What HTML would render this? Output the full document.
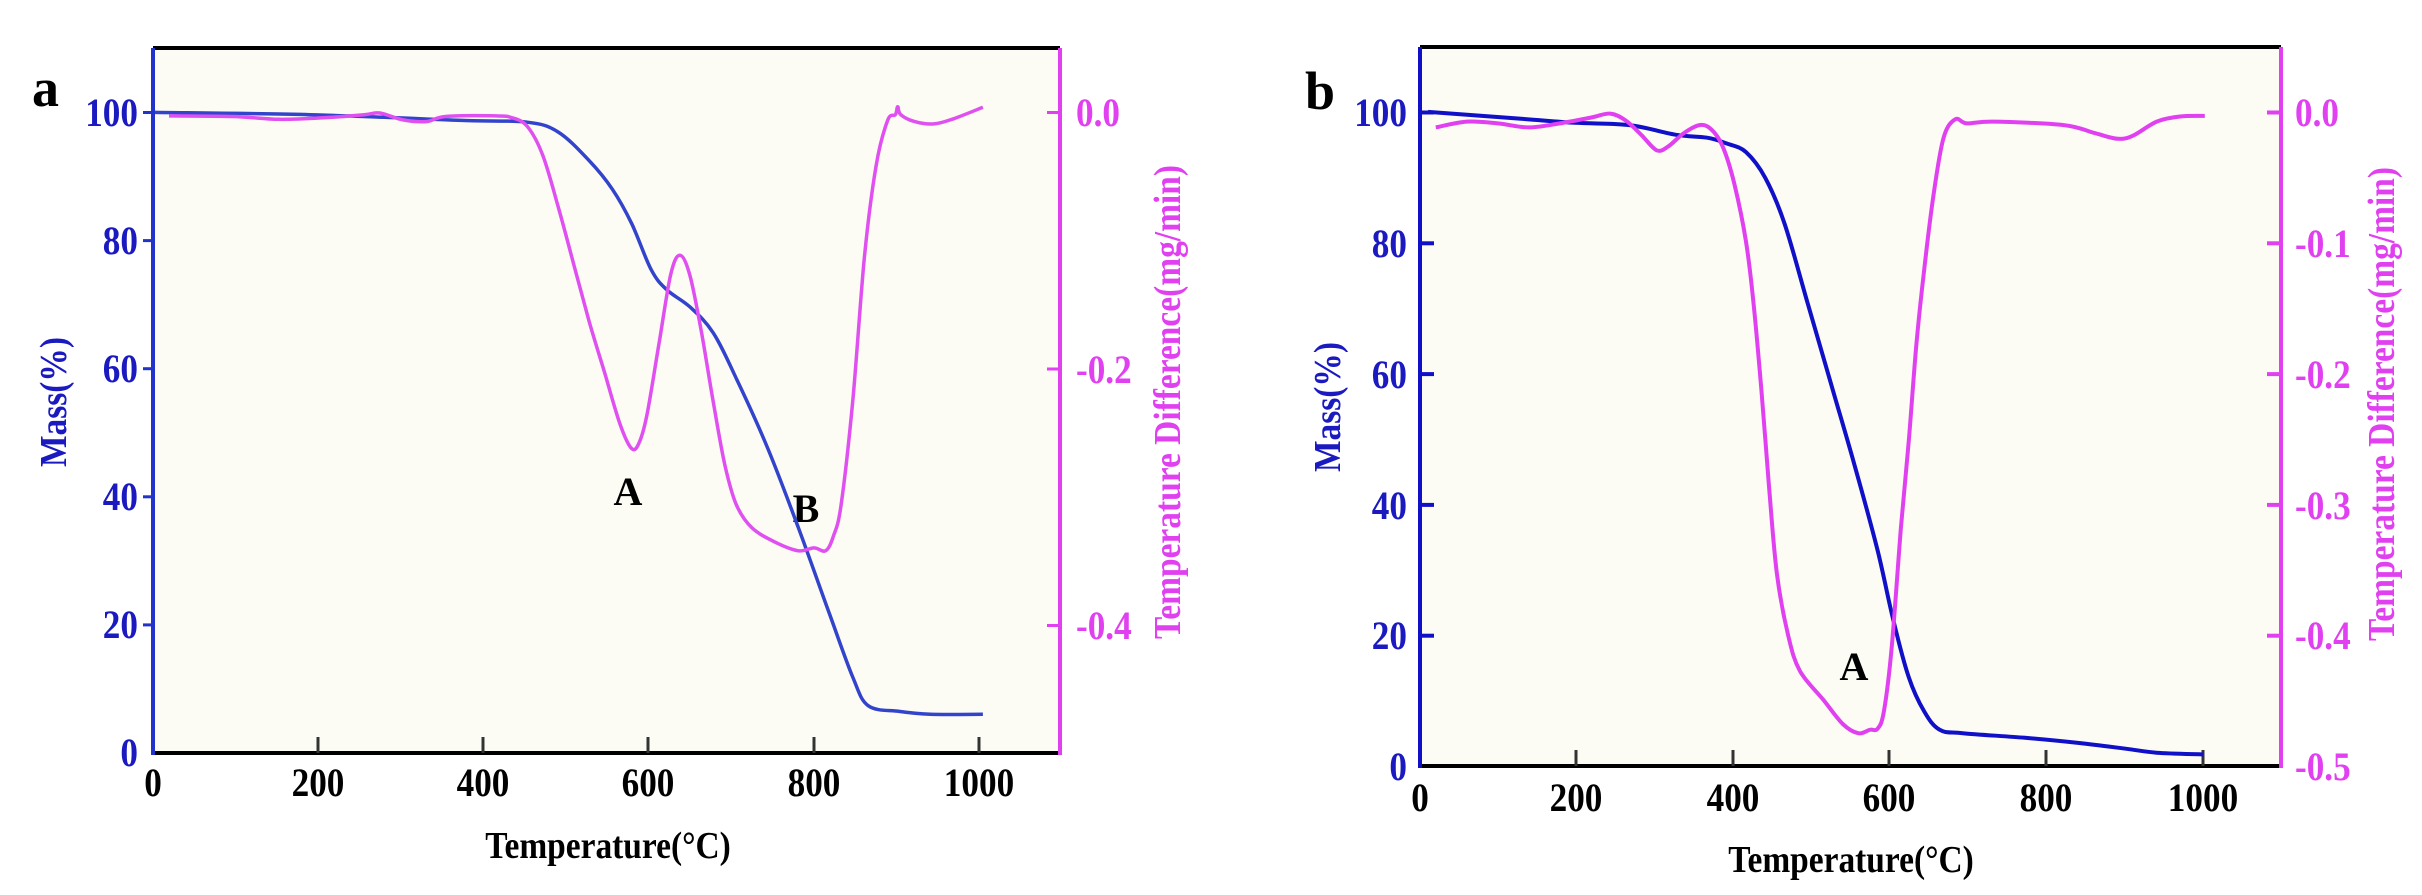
<!DOCTYPE html>
<html><head><meta charset="utf-8"><style>
html,body{margin:0;padding:0;background:#fff}
svg{display:block}
text{font-family:"Liberation Serif",serif;font-weight:bold}
.bl{fill:#1a1ac0;font-size:40px}
.mg{fill:#e040f0;font-size:40px}
.bk{fill:#000;font-size:40px}
.tt{font-size:38px}
</style></head><body>
<svg id="s" width="2422" height="895" viewBox="0 0 2422 895" xmlns="http://www.w3.org/2000/svg">
<!-- panel a -->
<rect x="153" y="48" width="907" height="705" fill="#fcfcf4"/>
<line x1="153" y1="48" x2="1060" y2="48" stroke="#000" stroke-width="4"/>
<line x1="153" y1="753" x2="1060" y2="753" stroke="#000" stroke-width="4"/>
<line x1="153" y1="48" x2="153" y2="755" stroke="#2233cc" stroke-width="4"/>
<line x1="1060" y1="48" x2="1060" y2="755" stroke="#e040f0" stroke-width="4"/>
<g stroke="#2233cc" stroke-width="3">
<line x1="143" y1="112.5" x2="153" y2="112.5"/><line x1="143" y1="240.6" x2="153" y2="240.6"/><line x1="143" y1="368.7" x2="153" y2="368.7"/><line x1="143" y1="496.8" x2="153" y2="496.8"/><line x1="143" y1="624.9" x2="153" y2="624.9"/></g>
<g stroke="#333" stroke-width="3">
<line x1="318" y1="737" x2="318" y2="753"/><line x1="483" y1="737" x2="483" y2="753"/><line x1="648" y1="737" x2="648" y2="753"/><line x1="814" y1="737" x2="814" y2="753"/><line x1="979" y1="737" x2="979" y2="753"/></g>
<g stroke="#e040f0" stroke-width="3">
<line x1="1047" y1="112.5" x2="1060" y2="112.5"/><line x1="1047" y1="369" x2="1060" y2="369"/><line x1="1047" y1="625.5" x2="1060" y2="625.5"/></g>
<g class="bl sq" text-anchor="end">
<text x="138" y="126">100</text><text x="138" y="254">80</text><text x="138" y="382">60</text><text x="138" y="510">40</text><text x="138" y="638">20</text><text x="138" y="766">0</text></g>
<g class="bk sq" text-anchor="middle">
<text x="153" y="796">0</text><text x="318" y="796">200</text><text x="483" y="796">400</text><text x="648" y="796">600</text><text x="814" y="796">800</text><text x="979" y="796">1000</text></g>
<g class="mg sq"><text x="1076" y="126">0.0</text><text x="1076" y="383">-0.2</text><text x="1076" y="639">-0.4</text></g>
<text class="bk tt sq" x="608" y="858" text-anchor="middle">Temperature(°C)</text>
<text class="bl tt sq" transform="translate(66,402) rotate(-90)" text-anchor="middle">Mass(%)</text>
<text class="mg tt sq" transform="translate(1180,402) rotate(-90)" text-anchor="middle">Temperature Difference(mg/min)</text>
<text class="bk" x="32" y="106" style="font-size:54px">a</text>
<text class="bk" x="628" y="505" text-anchor="middle">A</text><text class="bk" x="806" y="522" text-anchor="middle">B</text>
<!-- panel b -->
<rect x="1420" y="47" width="861" height="719" fill="#fcfcf4"/>
<line x1="1420" y1="47" x2="2281" y2="47" stroke="#000" stroke-width="4"/>
<line x1="1420" y1="766" x2="2281" y2="766" stroke="#000" stroke-width="4"/>
<line x1="1420" y1="47" x2="1420" y2="768" stroke="#1010c8" stroke-width="4"/>
<line x1="2281" y1="47" x2="2281" y2="768" stroke="#e040f0" stroke-width="4"/>
<g stroke="#1010c8" stroke-width="4">
<line x1="1420" y1="112.5" x2="1434" y2="112.5"/><line x1="1420" y1="243.3" x2="1434" y2="243.3"/><line x1="1420" y1="374.1" x2="1434" y2="374.1"/><line x1="1420" y1="504.9" x2="1434" y2="504.9"/><line x1="1420" y1="635.7" x2="1434" y2="635.7"/></g>
<g stroke="#333" stroke-width="3">
<line x1="1576" y1="750" x2="1576" y2="766"/><line x1="1733" y1="750" x2="1733" y2="766"/><line x1="1889" y1="750" x2="1889" y2="766"/><line x1="2046" y1="750" x2="2046" y2="766"/><line x1="2203" y1="750" x2="2203" y2="766"/></g>
<g stroke="#e040f0" stroke-width="4">
<line x1="2267" y1="112.5" x2="2281" y2="112.5"/><line x1="2267" y1="243.3" x2="2281" y2="243.3"/><line x1="2267" y1="374.1" x2="2281" y2="374.1"/><line x1="2267" y1="504.9" x2="2281" y2="504.9"/><line x1="2267" y1="635.7" x2="2281" y2="635.7"/></g>
<g class="bl sq" text-anchor="end">
<text x="1407" y="126">100</text><text x="1407" y="257">80</text><text x="1407" y="388">60</text><text x="1407" y="519">40</text><text x="1407" y="649">20</text><text x="1407" y="780">0</text></g>
<g class="bk sq" text-anchor="middle">
<text x="1420" y="811">0</text><text x="1576" y="811">200</text><text x="1733" y="811">400</text><text x="1889" y="811">600</text><text x="2046" y="811">800</text><text x="2203" y="811">1000</text></g>
<g class="mg sq"><text x="2295" y="126">0.0</text><text x="2295" y="257">-0.1</text><text x="2295" y="388">-0.2</text><text x="2295" y="519">-0.3</text><text x="2295" y="649">-0.4</text><text x="2295" y="780">-0.5</text></g>
<text class="bk tt sq" x="1851" y="872" text-anchor="middle">Temperature(°C)</text>
<text class="bl tt sq" transform="translate(1340,407) rotate(-90)" text-anchor="middle">Mass(%)</text>
<text class="mg tt sq" transform="translate(2394,404) rotate(-90)" text-anchor="middle">Temperature Difference(mg/min)</text>
<text class="bk" x="1305" y="109" style="font-size:54px">b</text>
<text class="bk" x="1854" y="680" text-anchor="middle">A</text>
<path id="am" fill="none" stroke="#3344cc" stroke-width="3.5" stroke-linejoin="round"/>
<path id="ad" fill="none" stroke="#e050f0" stroke-width="3.5" stroke-linejoin="round"/>
<path id="bm" fill="none" stroke="#1010c8" stroke-width="4" stroke-linejoin="round"/>
<path id="bd" fill="none" stroke="#e040f0" stroke-width="4" stroke-linejoin="round"/>
</svg>
<script>
function mk(id,pts,ox){var P=[];for(var i=0;i<pts.length;i+=2)P.push([ox+pts[i]/1.29,pts[i+1]/1.743]);
var d="M"+P[0][0].toFixed(1)+","+P[0][1].toFixed(1);
for(var i=0;i<P.length-1;i++){var p0=P[i-1]||P[i],p1=P[i],p2=P[i+1],p3=P[i+2]||p2;
var c1x=p1[0]+(p2[0]-p0[0])/6,c1y=p1[1]+(p2[1]-p0[1])/6,c2x=p2[0]-(p3[0]-p1[0])/6,c2y=p2[1]-(p3[1]-p1[1])/6;
d+="C"+c1x.toFixed(1)+","+c1y.toFixed(1)+" "+c2x.toFixed(1)+","+c2y.toFixed(1)+" "+p2[0].toFixed(1)+","+p2[1].toFixed(1);}
document.getElementById(id).setAttribute("d",d);}
mk("am",[200,196,400,200,600,210,680,213,720,230,760,280,790,330,815,390,840,470,860,505,890,535,920,580,950,660,990,780,1030,920,1070,1070,1100,1180,1120,1230,1160,1240,1200,1245,1268,1245],0);
mk("ad",[218,202,300,203,360,208,420,205,470,200,490,197,520,209,550,212,575,203,640,202,660,205,680,220,700,270,720,360,740,460,760,560,780,650,800,740,815,782,825,770,835,720,850,600,865,480,877,445,890,480,905,580,920,700,935,810,950,880,970,920,1000,945,1030,960,1050,955,1065,960,1075,935,1085,880,1100,700,1115,450,1130,290,1145,210,1155,200,1158,186,1162,200,1180,212,1205,216,1230,207,1268,187],0);
mk("bm",[280,195,400,207,470,214,540,218,600,235,640,240,665,250,690,265,715,310,740,390,770,530,800,670,830,810,860,960,880,1080,900,1180,920,1240,940,1272,970,1278,1050,1286,1120,1295,1180,1305,1220,1312,1280,1315],1211);
mk("bd",[290,222,330,212,370,215,410,222,450,215,490,205,515,198,535,210,555,235,575,262,590,255,610,232,630,218,645,225,660,255,675,320,690,420,700,530,710,680,720,850,730,1000,745,1110,760,1170,790,1220,815,1262,835,1278,850,1272,860,1270,868,1240,878,1130,890,920,900,770,910,600,920,470,932,340,945,240,960,208,975,215,1010,212,1100,218,1140,232,1170,242,1190,236,1220,212,1250,203,1282,202],1211);
var ts=document.querySelectorAll(".sq text, text.sq");
for(var i=0;i<ts.length;i++){var t=ts[i];var L=t.getComputedTextLength();t.setAttribute("textLength",(L*0.88).toFixed(1));t.setAttribute("lengthAdjust","spacingAndGlyphs");}
</script>
</body></html>
